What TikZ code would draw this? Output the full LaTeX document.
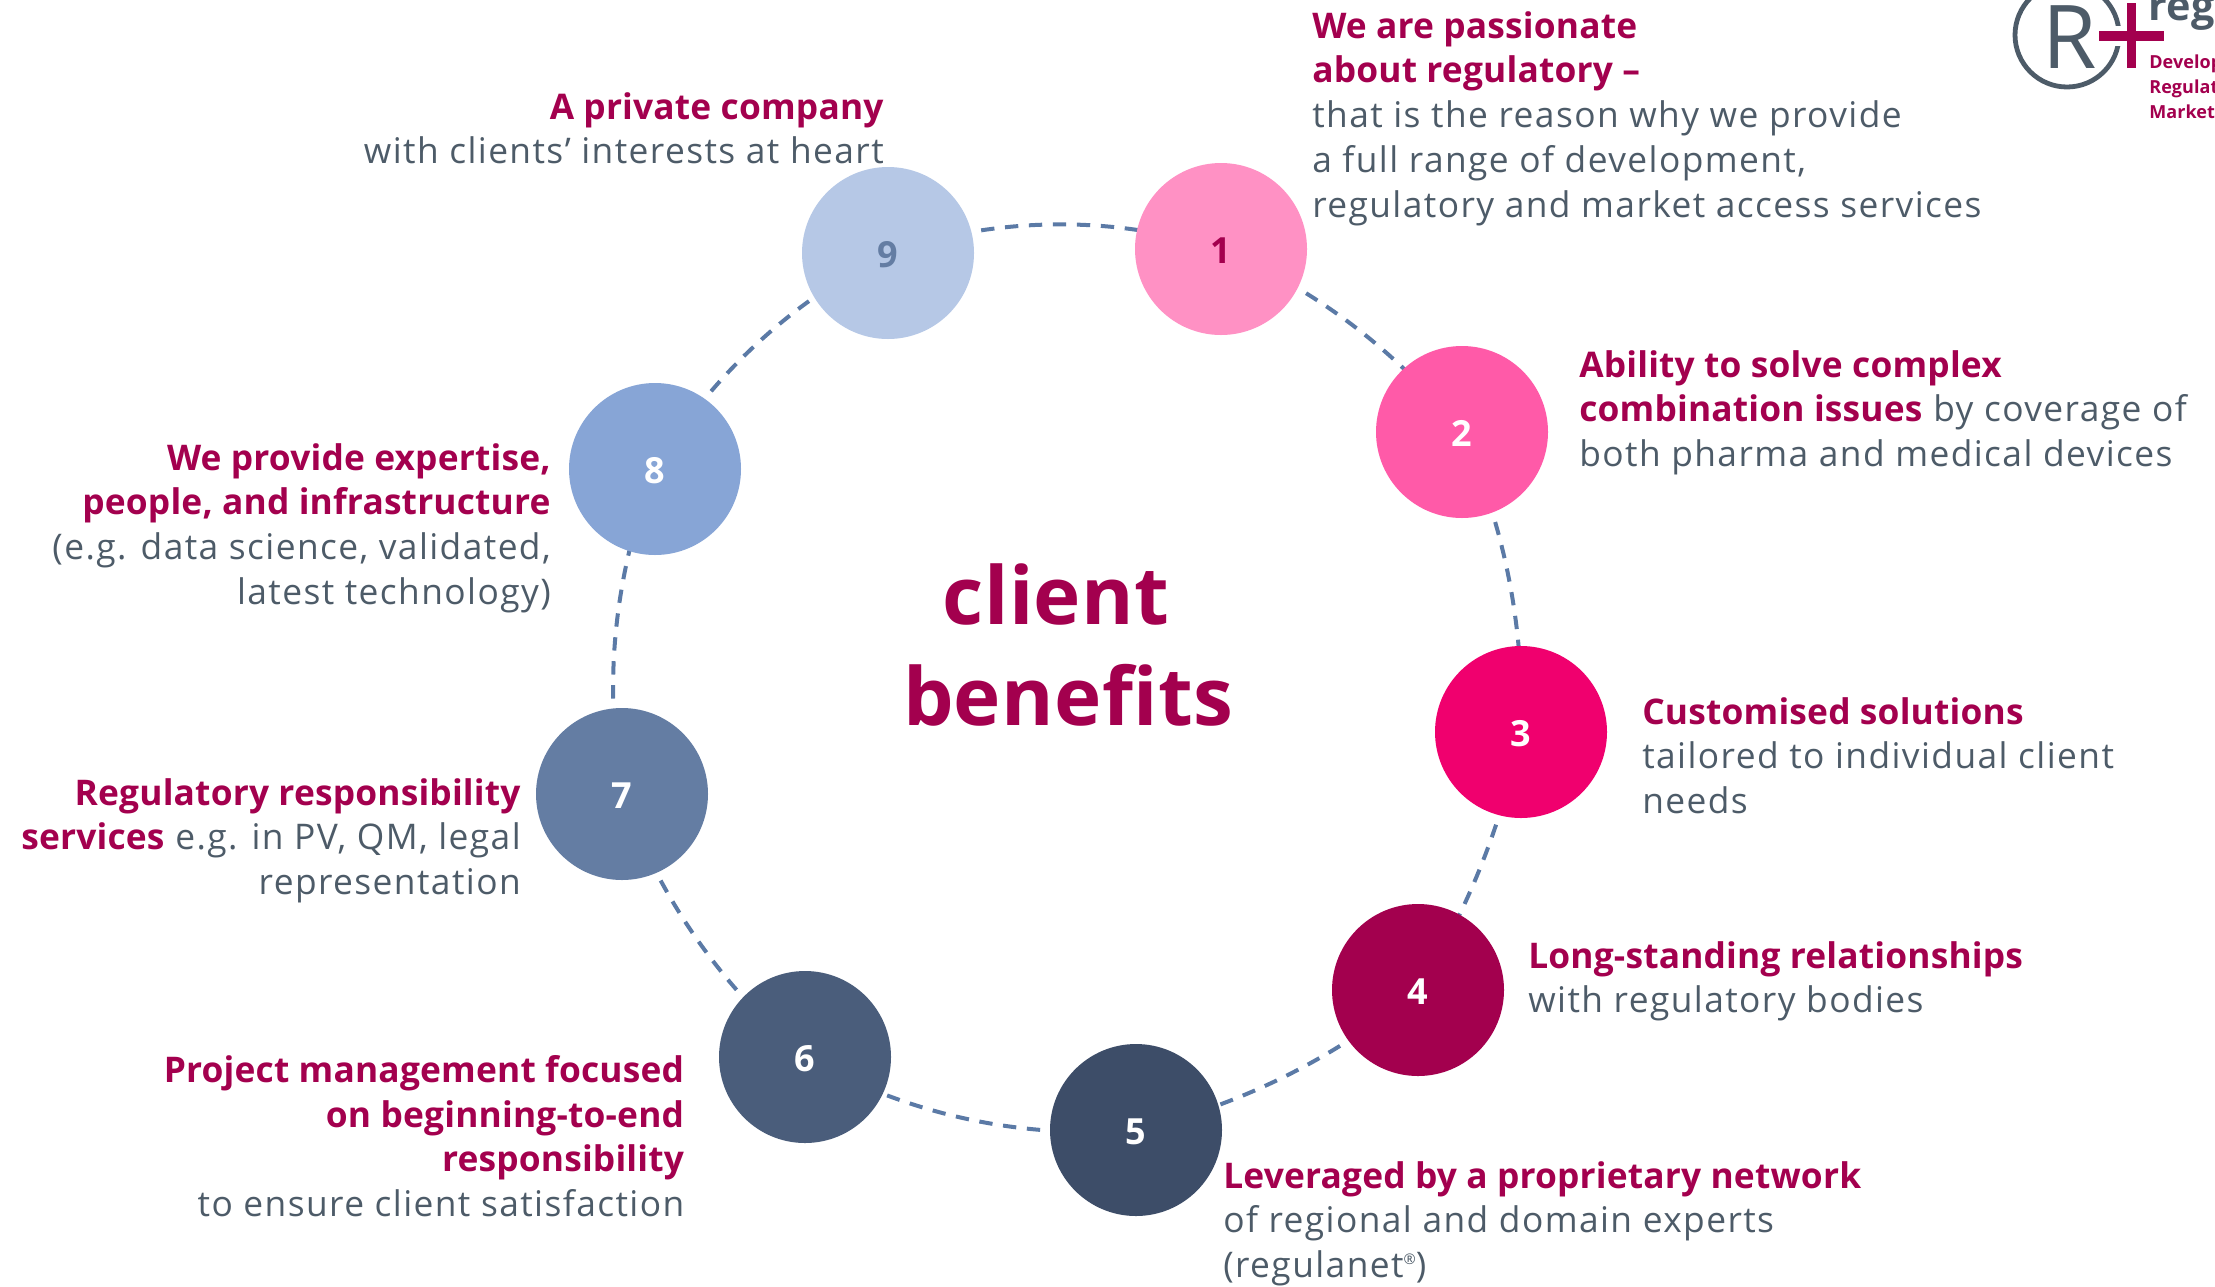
\documentclass[tikz,border=0pt]{standalone}
\usepackage{fontspec}
\usetikzlibrary{backgrounds}
\setmainfont{Open Sans}[LetterSpace=4,BoldFeatures={LetterSpace=0.5}]
\definecolor{mag}{HTML}{A3004E}
\definecolor{slate}{HTML}{4D5B68}
\definecolor{ring}{HTML}{5B7AA6}
\definecolor{cA}{HTML}{FF91C4}
\definecolor{cB}{HTML}{FF5AA8}
\definecolor{cC}{HTML}{F0006E}
\definecolor{cD}{HTML}{A3004E}
\definecolor{cE}{HTML}{3D4D68}
\definecolor{cF}{HTML}{4A5D7B}
\definecolor{cG}{HTML}{647DA3}
\definecolor{cH}{HTML}{87A5D6}
\definecolor{cI}{HTML}{B6C8E6}
\newcommand{\hl}[1]{\textcolor{mag}{\textbf{#1}}}
\tikzset{
  x=0.75pt,y=-0.75pt,
  num/.style={circle,minimum size=129pt,inner sep=0pt,text=white,text height=22pt,text depth=0pt,font=\fontsize{27}{30}\selectfont\bfseries},
  link/.style={draw=ring,line width=3pt,dash pattern=on 10pt off 8pt,looseness=0.88},
  lab/.style={inner sep=0pt,text=slate,font=\fontsize{26.5}{33.6}\selectfont},
  labl/.style={lab,align=left,anchor=north west},
  labr/.style={lab,align=right,anchor=north east},
  small/.style={inner sep=0pt,anchor=base west,text=mag,font=\fontsize{13.5}{16}\selectfont\bfseries},
}
\begin{document}
\begin{tikzpicture}
\useasboundingbox[clip] (0,0) rectangle (2215,1286);
% circles
\node[num,fill=cA,text=mag] (n1) at (1221,249) {1};
\node[num,fill=cB] (n2) at (1462,432) {2};
\node[num,fill=cC] (n3) at (1521,732) {3};
\node[num,fill=cD] (n4) at (1418,990) {4};
\node[num,fill=cE] (n5) at (1136,1130) {5};
\node[num,fill=cF] (n6) at (805,1057) {6};
\node[num,fill=cG] (n7) at (622,794) {7};
\node[num,fill=cH] (n8) at (655,469) {8};
\node[num,fill=cI,text=cG] (n9) at (888,253) {9};
% connectors
\begin{scope}[on background layer]
\draw[link] (n1.center) to[bend left=14] (n2.center);
\draw[link] (n2.center) to[bend left=13] (n3.center);
\draw[link] (n3.center) to[bend left=10] (n4.center);
\draw[link] (n4.center) to[bend left=13] (n5.center);
\draw[link] (n5.center) to[bend left=17] (n6.center);
\draw[link] (n6.center) to[bend left=15] (n7.center);
\draw[link] (n7.center) to[bend left=15.5] (n8.center);
\draw[link] (n8.center) to[bend left=16] (n9.center);
\draw[link] (n9.center) to[bend left=18] (n1.center);
\end{scope}
% centre
\node[inner sep=0pt,text=mag,font=\fontsize{60}{76}\selectfont\bfseries,align=center] (title) at (1056,645) {client\\[0pt]\hspace*{18pt}benefits};
% labels
\node[labl] (t1) at (1312,11) {\hl{We are passionate}\\\hl{about regulatory –}\\that is the reason why we provide\\a full range of development,\\regulatory and market access services};
\node[labl] (t2) at (1579,350) {\hl{Ability to solve complex}\\\hl{combination issues} by coverage of\\both pharma and medical devices};
\node[labl] (t3) at (1642,697) {\hl{Customised solutions}\\tailored to individual client\\needs};
\node[labl] (t4) at (1528,941) {\hl{Long-standing relationships}\\with regulatory bodies};
\node[labl] (t5) at (1223,1161) {\hl{Leveraged by a proprietary network}\\of regional and domain experts\\(regulanet\raisebox{10pt}{\fontsize{11}{11}\selectfont ®})};
\node[labr] (t6) at (684.5,1055) {\hl{Project management focused}\\\hl{on beginning-to-end}\\\hl{responsibility}\\to ensure client satisfaction};
\node[labr] (t7) at (521,778) {\hl{Regulatory responsibility}\\\hl{services} e.g. in PV, QM, legal\\representation};
\node[labr] (t8) at (551,443) {\hl{We provide expertise,}\\\hl{people, and infrastructure}\\(e.g. data science, validated,\\latest technology)};
\node[labr] (t9) at (884,92) {\hl{A private company}\\with clients’ interests at heart};
% logo
\draw[slate,line width=3.6pt] (2067,35) circle (52);
\node[inner sep=0pt,anchor=base,text=slate,font=\fontsize{66}{70}\selectfont] (lr) at (2070,68) {R};
\fill[white] (2093,26) rectangle (2170,46);
\fill[white] (2122,0) rectangle (2141,74);
\fill[mag] (2127,3) rectangle (2136,68);
\fill[mag] (2099,31) rectangle (2164,41);
\node[inner sep=0pt,anchor=base west,text=slate,font=\fontsize{31}{35}\selectfont\bfseries] (lreg) at (2148,20) {reg};
\node[small] (l1) at (2149,68) {Develop};
\node[small] (l2) at (2149,93) {Regulat};
\node[small] (l3) at (2149,118) {Market};
\end{tikzpicture}
\end{document}
